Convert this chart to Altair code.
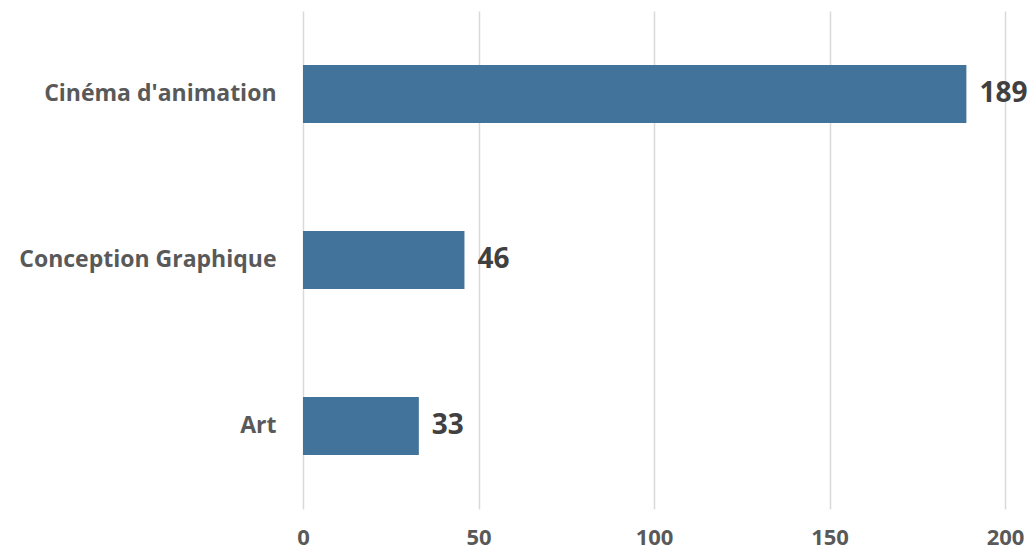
import altair as alt
import pandas as pd

categories = ["Cinéma d'animation", "Conception Graphique", "Art"]
values = [189, 46, 33]

df = pd.DataFrame({"cat": categories, "val": values})

base = alt.Chart(df).encode(
    y=alt.Y("cat:N", sort=categories, title=None,
            scale=alt.Scale(paddingInner=0.65, paddingOuter=0.325),
            axis=alt.Axis(ticks=False, domain=False, labelPadding=27,
                          labelFont="Open Sans", labelFontWeight="bold",
                          labelFontSize=23, labelColor="#595959", labelLimit=400)),
    x=alt.X("val:Q", title=None,
            scale=alt.Scale(domain=[0, 200], nice=False),
            axis=alt.Axis(values=[0, 50, 100, 150, 200], ticks=False, domain=False,
                          grid=True, gridColor="#d9d9d9", gridWidth=1.5,
                          labelPadding=35, labelFont="Open Sans", labelFontWeight="bold",
                          labelFontSize=22, labelColor="#595959",
                          labelFlush=False, labelBaseline="alphabetic")),
)

bars = base.mark_bar(color="#41739b")
text = base.mark_text(align="left", baseline="middle", dx=13, font="Open Sans",
                      fontWeight="bold", fontSize=28, color="#404040").encode(text="val:Q")

chart = (bars + text).properties(
    width=702, height=498,
    autosize=alt.AutoSizeParams(type="none"),
    padding={"left": 295, "top": 3, "right": 22, "bottom": 41},
).configure_view(stroke=None)

chart.save("out.html", embed_options={"renderer": "svg", "actions": False})
